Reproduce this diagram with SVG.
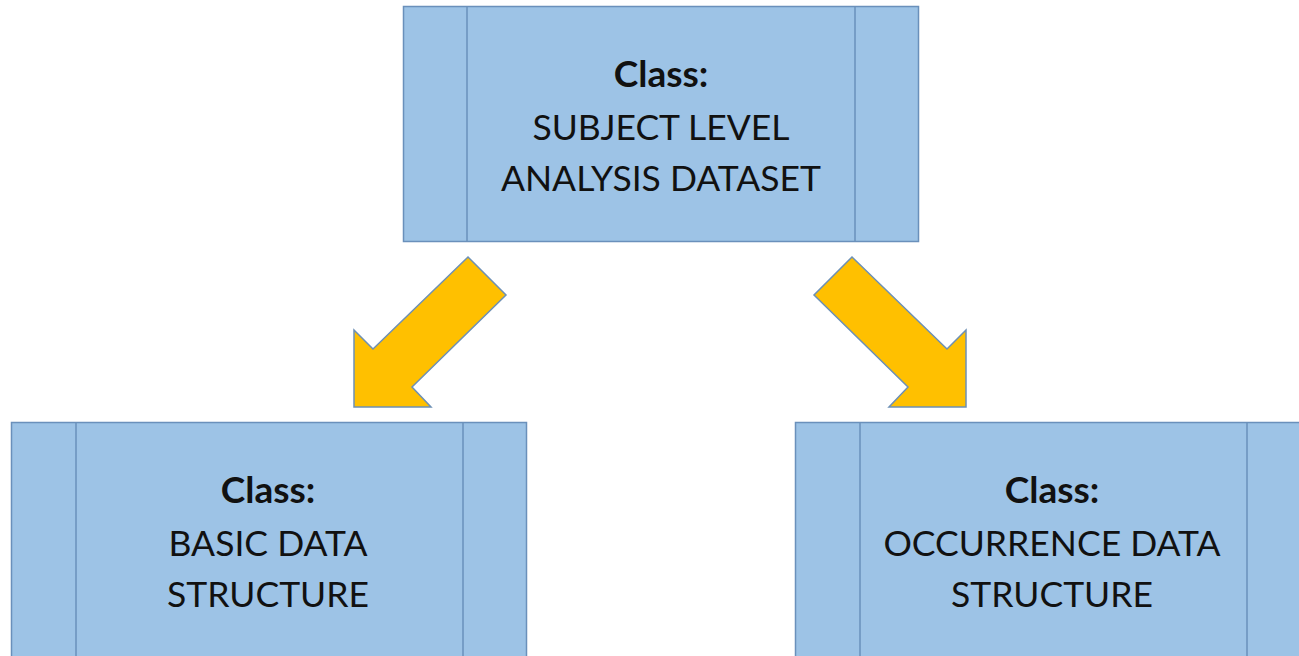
<svg xmlns="http://www.w3.org/2000/svg" width="1299" height="656" viewBox="0 0 1299 656">
<style>
.box{fill:#9dc3e6;stroke:#6a90bb;stroke-width:1.5}
.div{stroke:#6a90bb;stroke-width:1.5;fill:none}
.arrow{fill:#ffc000;stroke:#6d90b5;stroke-width:1.5;stroke-linejoin:miter}
text{font-family:Lato,"Liberation Sans",sans-serif;font-size:35.5px;fill:#111;text-anchor:middle}
.b{font-weight:bold;font-size:37px}
</style>
<rect width="1299" height="656" fill="#ffffff"/>
<g id="node-top">
<rect class="box" x="403.5" y="6.5" width="515" height="235"/>
<line class="div" x1="467" y1="6.5" x2="467" y2="241.5"/>
<line class="div" x1="855" y1="6.5" x2="855" y2="241.5"/>
<text class="b" x="661" y="87">Class:</text>
<text x="661" y="140">SUBJECT LEVEL</text>
<text x="661" y="191">ANALYSIS DATASET</text>
</g>
<g id="node-left">
<rect class="box" x="11.5" y="422.5" width="515" height="260"/>
<line class="div" x1="76" y1="422.5" x2="76" y2="682"/>
<line class="div" x1="463" y1="422.5" x2="463" y2="682"/>
<text class="b" x="268" y="503">Class:</text>
<text x="268" y="556">BASIC DATA</text>
<text x="268" y="607">STRUCTURE</text>
</g>
<g id="node-right">
<rect class="box" x="795.5" y="422.5" width="515" height="260"/>
<line class="div" x1="860" y1="422.5" x2="860" y2="682"/>
<line class="div" x1="1247" y1="422.5" x2="1247" y2="682"/>
<text class="b" x="1052" y="503">Class:</text>
<text x="1052" y="556">OCCURRENCE DATA</text>
<text x="1052" y="607">STRUCTURE</text>
</g>
<g id="connectors">
<polygon class="arrow" points="468,257 506,295 412,387 431,407 354,407 354,330 373,349"/>
<polygon class="arrow" points="852,257 814,295 908,387 889,407 966,407 966,330 947,349"/>
</g>
</svg>
